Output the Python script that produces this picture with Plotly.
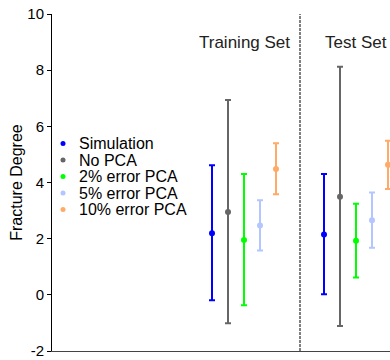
import plotly.graph_objects as go

series = ["Simulation", "No PCA", "2% error PCA", "5% error PCA", "10% error PCA"]
colors = ["#0000FF", "#666666", "#00FF00", "#B3C6FF", "#FFAA66"]
groups = ["Training Set", "Test Set"]
group_centers = [6, 13]
offsets = [-2, -1, 0, 1, 2]

# center, upper, lower values per series: [training, test]
centers = [[2.19, 2.15], [2.95, 3.49], [1.95, 1.93], [2.47, 2.66], [4.48, 4.63]]
uppers = [[4.61, 4.30], [6.94, 8.12], [4.30, 3.24], [3.37, 3.64], [5.40, 5.49]]
lowers = [[-0.19, 0.02], [-1.01, -1.11], [-0.37, 0.62], [1.58, 1.68], [3.58, 3.77]]

yticks = [-2, 0, 2, 4, 6, 8, 10]

L, T, B, R = 52, 14, 9, 0
W, H = 390, 360
PW, PH = W - L - R, H - T - B

fig = go.Figure()
for i, name in enumerate(series):
    xs = [c + offsets[i] for c in group_centers]
    ys = centers[i]
    fig.add_trace(go.Scatter(
        x=xs, y=ys, mode="markers", name=name, showlegend=False,
        marker=dict(color=colors[i], size=6),
        error_y=dict(type="data", symmetric=False,
                     array=[u - c for u, c in zip(uppers[i], ys)],
                     arrayminus=[c - l for l, c in zip(lowers[i], ys)],
                     color=colors[i], thickness=2, width=3),
    ))

# legend drawn as annotations (pixel positions converted to plot-area fractions)
leg_y = [143.5, 160, 176.5, 193, 209.5]
for i, name in enumerate(series):
    yp = 1 - (leg_y[i] - T) / PH
    fig.add_annotation(xref="paper", yref="paper", x=(77 - L) / PW, y=yp,
                       xanchor="left", yanchor="middle", text=name, showarrow=False,
                       font=dict(size=16, color="black"))
    fig.add_shape(type="circle", xref="paper", yref="paper",
                  xsizemode="pixel", ysizemode="pixel",
                  xanchor=(63 - L) / PW, yanchor=yp, x0=-2.5, x1=2.5, y0=-2.5, y1=2.5,
                  fillcolor=colors[i], line=dict(width=0))

for g, c in zip(groups, group_centers):
    fig.add_annotation(x=c, y=9.0, text=g, showarrow=False,
                       font=dict(size=17, color="#222222"))

fig.add_shape(type="line", x0=9.5, x1=9.5, y0=0, y1=1, xref="x", yref="paper",
              line=dict(color="black", width=1, dash="3px,1px"))

fig.update_layout(
    width=W, height=H,
    margin=dict(l=L, r=R, t=T, b=B, autoexpand=False),
    plot_bgcolor="white", paper_bgcolor="white",
    font=dict(family="Liberation Sans, Arial, sans-serif", color="black"),
    showlegend=False,
)
fig.update_xaxes(range=[-6, 15.125], showticklabels=False, ticks="", showgrid=False,
                 zeroline=False, showline=True, linecolor="#444444", linewidth=1,
                 automargin=False)
fig.update_yaxes(range=[-2, 10], tickvals=yticks, ticktext=[str(t) for t in yticks],
                 ticks="outside", ticklen=4, tickcolor="black", showgrid=False,
                 zeroline=False, showline=True, linecolor="black", linewidth=1,
                 tickfont=dict(size=15), automargin=False,
                 title=dict(text="Fracture Degree", font=dict(size=16), standoff=0))

fig.write_html("out.html", config={"displayModeBar": False},
               post_script="document.body.style.margin='0';document.body.style.overflow='hidden';")
